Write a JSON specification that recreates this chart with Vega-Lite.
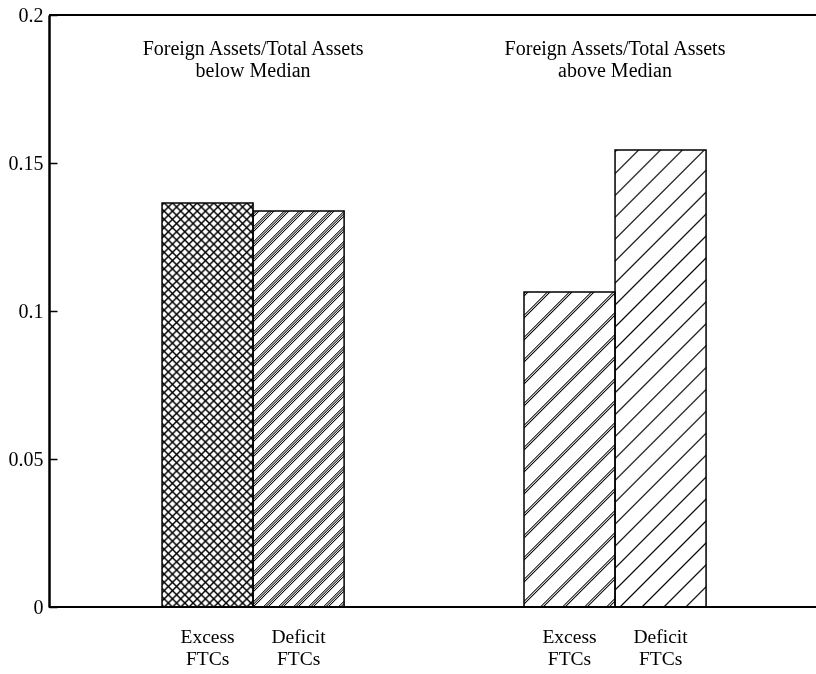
{
"$schema": "https://vega.github.io/schema/vega-lite/v6.json",
"width": 767, "height": 592,
"autosize": {"type": "none"},
"padding": {"left": 49, "top": 15, "right": 0, "bottom": 67},
"background": "white",
"config": {"view": {"stroke": null}, "font": "Liberation Serif"},
"data": {"values": [
{"group": "below", "type": "Excess", "value": 0.1365, "label": "Excess\nFTCs", "grouptitle": "Foreign Assets/Total Assets\nbelow Median"},
{"group": "below", "type": "Deficit", "value": 0.1338, "label": "Deficit\nFTCs", "grouptitle": "Foreign Assets/Total Assets\nbelow Median"},
{"group": "above", "type": "Excess", "value": 0.1064, "label": "Excess\nFTCs", "grouptitle": "Foreign Assets/Total Assets\nabove Median"},
{"group": "above", "type": "Deficit", "value": 0.1544, "label": "Deficit\nFTCs", "grouptitle": "Foreign Assets/Total Assets\nabove Median"}
]},
"encoding": {
"y": {"field": "value", "type": "quantitative", "scale": {"domain": [0, 0.2], "nice": false, "zero": true},
"axis": {"title": null, "values": [0, 0.05, 0.1, 0.15, 0.2], "format": "~g", "grid": false, "domainColor": "#000", "domainWidth": 2.5, "tickColor": "#000", "tickWidth": 1.5, "tickSize": -8, "labelPadding": 14, "labelFont": "Liberation Serif", "labelFontSize": 20, "labelColor": "#000", "labelOverlap": false}}
},
"layer": [
{"transform": [{"filter": "datum.group==='below' && datum.type==='Excess'"}],
"mark": {"type": "bar", "fill": {"gradient": "linear", "x1": 0, "y1": 0, "x2": 0.27354, "y2": 1.21451, "stops": [
{"offset":0,"color":"#fff"},{"offset":0.004,"color":"#000"},{"offset":0.008,"color":"#fff"},
{"offset":0.016,"color":"#fff"},{"offset":0.02,"color":"#000"},{"offset":0.024,"color":"#fff"},
{"offset":0.032,"color":"#fff"},{"offset":0.036,"color":"#000"},{"offset":0.04,"color":"#fff"},
{"offset":0.048,"color":"#fff"},{"offset":0.052,"color":"#000"},{"offset":0.056,"color":"#fff"},
{"offset":0.064,"color":"#fff"},{"offset":0.068,"color":"#000"},{"offset":0.072,"color":"#fff"},
{"offset":0.08,"color":"#fff"},{"offset":0.084,"color":"#000"},{"offset":0.088,"color":"#fff"},
{"offset":0.096,"color":"#fff"},{"offset":0.1,"color":"#000"},{"offset":0.104,"color":"#fff"},
{"offset":0.112,"color":"#fff"},{"offset":0.116,"color":"#000"},{"offset":0.12,"color":"#fff"},
{"offset":0.128,"color":"#fff"},{"offset":0.132,"color":"#000"},{"offset":0.136,"color":"#fff"},
{"offset":0.144,"color":"#fff"},{"offset":0.148,"color":"#000"},{"offset":0.152,"color":"#fff"},
{"offset":0.16,"color":"#fff"},{"offset":0.164,"color":"#000"},{"offset":0.168,"color":"#fff"},
{"offset":0.176,"color":"#fff"},{"offset":0.18,"color":"#000"},{"offset":0.184,"color":"#fff"},
{"offset":0.192,"color":"#fff"},{"offset":0.196,"color":"#000"},{"offset":0.2,"color":"#fff"},
{"offset":0.208,"color":"#fff"},{"offset":0.212,"color":"#000"},{"offset":0.216,"color":"#fff"},
{"offset":0.224,"color":"#fff"},{"offset":0.228,"color":"#000"},{"offset":0.232,"color":"#fff"},
{"offset":0.24,"color":"#fff"},{"offset":0.244,"color":"#000"},{"offset":0.248,"color":"#fff"},
{"offset":0.256,"color":"#fff"},{"offset":0.26,"color":"#000"},{"offset":0.264,"color":"#fff"},
{"offset":0.272,"color":"#fff"},{"offset":0.276,"color":"#000"},{"offset":0.28,"color":"#fff"},
{"offset":0.288,"color":"#fff"},{"offset":0.292,"color":"#000"},{"offset":0.296,"color":"#fff"},
{"offset":0.304,"color":"#fff"},{"offset":0.308,"color":"#000"},{"offset":0.312,"color":"#fff"},
{"offset":0.32,"color":"#fff"},{"offset":0.324,"color":"#000"},{"offset":0.328,"color":"#fff"},
{"offset":0.336,"color":"#fff"},{"offset":0.34,"color":"#000"},{"offset":0.344,"color":"#fff"},
{"offset":0.352,"color":"#fff"},{"offset":0.356,"color":"#000"},{"offset":0.36,"color":"#fff"},
{"offset":0.368,"color":"#fff"},{"offset":0.372,"color":"#000"},{"offset":0.376,"color":"#fff"},
{"offset":0.384,"color":"#fff"},{"offset":0.388,"color":"#000"},{"offset":0.392,"color":"#fff"},
{"offset":0.4,"color":"#fff"},{"offset":0.404,"color":"#000"},{"offset":0.408,"color":"#fff"},
{"offset":0.416,"color":"#fff"},{"offset":0.42,"color":"#000"},{"offset":0.424,"color":"#fff"},
{"offset":0.432,"color":"#fff"},{"offset":0.436,"color":"#000"},{"offset":0.44,"color":"#fff"},
{"offset":0.448,"color":"#fff"},{"offset":0.452,"color":"#000"},{"offset":0.456,"color":"#fff"},
{"offset":0.464,"color":"#fff"},{"offset":0.468,"color":"#000"},{"offset":0.472,"color":"#fff"},
{"offset":0.48,"color":"#fff"},{"offset":0.484,"color":"#000"},{"offset":0.488,"color":"#fff"},
{"offset":0.496,"color":"#fff"},{"offset":0.5,"color":"#000"},{"offset":0.504,"color":"#fff"},
{"offset":0.512,"color":"#fff"},{"offset":0.516,"color":"#000"},{"offset":0.52,"color":"#fff"},
{"offset":0.528,"color":"#fff"},{"offset":0.532,"color":"#000"},{"offset":0.536,"color":"#fff"},
{"offset":0.544,"color":"#fff"},{"offset":0.548,"color":"#000"},{"offset":0.552,"color":"#fff"},
{"offset":0.56,"color":"#fff"},{"offset":0.564,"color":"#000"},{"offset":0.568,"color":"#fff"},
{"offset":0.576,"color":"#fff"},{"offset":0.58,"color":"#000"},{"offset":0.584,"color":"#fff"},
{"offset":0.592,"color":"#fff"},{"offset":0.596,"color":"#000"},{"offset":0.6,"color":"#fff"},
{"offset":0.608,"color":"#fff"},{"offset":0.612,"color":"#000"},{"offset":0.616,"color":"#fff"},
{"offset":0.624,"color":"#fff"},{"offset":0.628,"color":"#000"},{"offset":0.632,"color":"#fff"},
{"offset":0.64,"color":"#fff"},{"offset":0.644,"color":"#000"},{"offset":0.648,"color":"#fff"},
{"offset":0.656,"color":"#fff"},{"offset":0.66,"color":"#000"},{"offset":0.664,"color":"#fff"},
{"offset":0.672,"color":"#fff"},{"offset":0.676,"color":"#000"},{"offset":0.68,"color":"#fff"},
{"offset":0.688,"color":"#fff"},{"offset":0.692,"color":"#000"},{"offset":0.696,"color":"#fff"},
{"offset":0.704,"color":"#fff"},{"offset":0.708,"color":"#000"},{"offset":0.712,"color":"#fff"},
{"offset":0.72,"color":"#fff"},{"offset":0.724,"color":"#000"},{"offset":0.728,"color":"#fff"},
{"offset":0.736,"color":"#fff"},{"offset":0.74,"color":"#000"},{"offset":0.744,"color":"#fff"},
{"offset":0.752,"color":"#fff"},{"offset":0.756,"color":"#000"},{"offset":0.76,"color":"#fff"},
{"offset":0.768,"color":"#fff"},{"offset":0.772,"color":"#000"},{"offset":0.776,"color":"#fff"},
{"offset":0.784,"color":"#fff"},{"offset":0.788,"color":"#000"},{"offset":0.792,"color":"#fff"},
{"offset":0.8,"color":"#fff"},{"offset":0.804,"color":"#000"},{"offset":0.808,"color":"#fff"},
{"offset":0.816,"color":"#fff"},{"offset":0.82,"color":"#000"},{"offset":0.824,"color":"#fff"},
{"offset":0.832,"color":"#fff"},{"offset":0.836,"color":"#000"},{"offset":0.84,"color":"#fff"},
{"offset":0.848,"color":"#fff"},{"offset":0.852,"color":"#000"},{"offset":0.856,"color":"#fff"},
{"offset":0.864,"color":"#fff"},{"offset":0.868,"color":"#000"},{"offset":0.872,"color":"#fff"},
{"offset":0.88,"color":"#fff"},{"offset":0.884,"color":"#000"},{"offset":0.888,"color":"#fff"},
{"offset":0.896,"color":"#fff"},{"offset":0.9,"color":"#000"},{"offset":0.904,"color":"#fff"},
{"offset":0.912,"color":"#fff"},{"offset":0.916,"color":"#000"},{"offset":0.92,"color":"#fff"},
{"offset":0.928,"color":"#fff"},{"offset":0.932,"color":"#000"},{"offset":0.936,"color":"#fff"},
{"offset":0.944,"color":"#fff"},{"offset":0.948,"color":"#000"},{"offset":0.952,"color":"#fff"},
{"offset":0.96,"color":"#fff"},{"offset":0.964,"color":"#000"},{"offset":0.968,"color":"#fff"}
]}},
"encoding": {"x": {"field": "group", "type": "nominal", "scale": {"domain": ["below", "above"], "paddingInner": 0.497, "paddingOuter": 0.308, "align": 0.507}, "axis": null},
"xOffset": {"field": "type", "type": "nominal", "scale": {"domain": ["Excess", "Deficit"], "paddingInner": 0, "paddingOuter": 0}}}},
{"transform": [{"filter": "datum.group==='below' && datum.type==='Excess'"}],
"mark": {"type": "bar", "blend": "multiply", "fill": {"gradient": "linear", "x1": 0, "y1": 1, "x2": 0.27354, "y2": -0.21451, "stops": [
{"offset":0,"color":"#fff"},{"offset":0.004,"color":"#000"},{"offset":0.008,"color":"#fff"},
{"offset":0.016,"color":"#fff"},{"offset":0.02,"color":"#000"},{"offset":0.024,"color":"#fff"},
{"offset":0.032,"color":"#fff"},{"offset":0.036,"color":"#000"},{"offset":0.04,"color":"#fff"},
{"offset":0.048,"color":"#fff"},{"offset":0.052,"color":"#000"},{"offset":0.056,"color":"#fff"},
{"offset":0.064,"color":"#fff"},{"offset":0.068,"color":"#000"},{"offset":0.072,"color":"#fff"},
{"offset":0.08,"color":"#fff"},{"offset":0.084,"color":"#000"},{"offset":0.088,"color":"#fff"},
{"offset":0.096,"color":"#fff"},{"offset":0.1,"color":"#000"},{"offset":0.104,"color":"#fff"},
{"offset":0.112,"color":"#fff"},{"offset":0.116,"color":"#000"},{"offset":0.12,"color":"#fff"},
{"offset":0.128,"color":"#fff"},{"offset":0.132,"color":"#000"},{"offset":0.136,"color":"#fff"},
{"offset":0.144,"color":"#fff"},{"offset":0.148,"color":"#000"},{"offset":0.152,"color":"#fff"},
{"offset":0.16,"color":"#fff"},{"offset":0.164,"color":"#000"},{"offset":0.168,"color":"#fff"},
{"offset":0.176,"color":"#fff"},{"offset":0.18,"color":"#000"},{"offset":0.184,"color":"#fff"},
{"offset":0.192,"color":"#fff"},{"offset":0.196,"color":"#000"},{"offset":0.2,"color":"#fff"},
{"offset":0.208,"color":"#fff"},{"offset":0.212,"color":"#000"},{"offset":0.216,"color":"#fff"},
{"offset":0.224,"color":"#fff"},{"offset":0.228,"color":"#000"},{"offset":0.232,"color":"#fff"},
{"offset":0.24,"color":"#fff"},{"offset":0.244,"color":"#000"},{"offset":0.248,"color":"#fff"},
{"offset":0.256,"color":"#fff"},{"offset":0.26,"color":"#000"},{"offset":0.264,"color":"#fff"},
{"offset":0.272,"color":"#fff"},{"offset":0.276,"color":"#000"},{"offset":0.28,"color":"#fff"},
{"offset":0.288,"color":"#fff"},{"offset":0.292,"color":"#000"},{"offset":0.296,"color":"#fff"},
{"offset":0.304,"color":"#fff"},{"offset":0.308,"color":"#000"},{"offset":0.312,"color":"#fff"},
{"offset":0.32,"color":"#fff"},{"offset":0.324,"color":"#000"},{"offset":0.328,"color":"#fff"},
{"offset":0.336,"color":"#fff"},{"offset":0.34,"color":"#000"},{"offset":0.344,"color":"#fff"},
{"offset":0.352,"color":"#fff"},{"offset":0.356,"color":"#000"},{"offset":0.36,"color":"#fff"},
{"offset":0.368,"color":"#fff"},{"offset":0.372,"color":"#000"},{"offset":0.376,"color":"#fff"},
{"offset":0.384,"color":"#fff"},{"offset":0.388,"color":"#000"},{"offset":0.392,"color":"#fff"},
{"offset":0.4,"color":"#fff"},{"offset":0.404,"color":"#000"},{"offset":0.408,"color":"#fff"},
{"offset":0.416,"color":"#fff"},{"offset":0.42,"color":"#000"},{"offset":0.424,"color":"#fff"},
{"offset":0.432,"color":"#fff"},{"offset":0.436,"color":"#000"},{"offset":0.44,"color":"#fff"},
{"offset":0.448,"color":"#fff"},{"offset":0.452,"color":"#000"},{"offset":0.456,"color":"#fff"},
{"offset":0.464,"color":"#fff"},{"offset":0.468,"color":"#000"},{"offset":0.472,"color":"#fff"},
{"offset":0.48,"color":"#fff"},{"offset":0.484,"color":"#000"},{"offset":0.488,"color":"#fff"},
{"offset":0.496,"color":"#fff"},{"offset":0.5,"color":"#000"},{"offset":0.504,"color":"#fff"},
{"offset":0.512,"color":"#fff"},{"offset":0.516,"color":"#000"},{"offset":0.52,"color":"#fff"},
{"offset":0.528,"color":"#fff"},{"offset":0.532,"color":"#000"},{"offset":0.536,"color":"#fff"},
{"offset":0.544,"color":"#fff"},{"offset":0.548,"color":"#000"},{"offset":0.552,"color":"#fff"},
{"offset":0.56,"color":"#fff"},{"offset":0.564,"color":"#000"},{"offset":0.568,"color":"#fff"},
{"offset":0.576,"color":"#fff"},{"offset":0.58,"color":"#000"},{"offset":0.584,"color":"#fff"},
{"offset":0.592,"color":"#fff"},{"offset":0.596,"color":"#000"},{"offset":0.6,"color":"#fff"},
{"offset":0.608,"color":"#fff"},{"offset":0.612,"color":"#000"},{"offset":0.616,"color":"#fff"},
{"offset":0.624,"color":"#fff"},{"offset":0.628,"color":"#000"},{"offset":0.632,"color":"#fff"},
{"offset":0.64,"color":"#fff"},{"offset":0.644,"color":"#000"},{"offset":0.648,"color":"#fff"},
{"offset":0.656,"color":"#fff"},{"offset":0.66,"color":"#000"},{"offset":0.664,"color":"#fff"},
{"offset":0.672,"color":"#fff"},{"offset":0.676,"color":"#000"},{"offset":0.68,"color":"#fff"},
{"offset":0.688,"color":"#fff"},{"offset":0.692,"color":"#000"},{"offset":0.696,"color":"#fff"},
{"offset":0.704,"color":"#fff"},{"offset":0.708,"color":"#000"},{"offset":0.712,"color":"#fff"},
{"offset":0.72,"color":"#fff"},{"offset":0.724,"color":"#000"},{"offset":0.728,"color":"#fff"},
{"offset":0.736,"color":"#fff"},{"offset":0.74,"color":"#000"},{"offset":0.744,"color":"#fff"},
{"offset":0.752,"color":"#fff"},{"offset":0.756,"color":"#000"},{"offset":0.76,"color":"#fff"},
{"offset":0.768,"color":"#fff"},{"offset":0.772,"color":"#000"},{"offset":0.776,"color":"#fff"},
{"offset":0.784,"color":"#fff"},{"offset":0.788,"color":"#000"},{"offset":0.792,"color":"#fff"},
{"offset":0.8,"color":"#fff"},{"offset":0.804,"color":"#000"},{"offset":0.808,"color":"#fff"},
{"offset":0.816,"color":"#fff"},{"offset":0.82,"color":"#000"},{"offset":0.824,"color":"#fff"},
{"offset":0.832,"color":"#fff"},{"offset":0.836,"color":"#000"},{"offset":0.84,"color":"#fff"},
{"offset":0.848,"color":"#fff"},{"offset":0.852,"color":"#000"},{"offset":0.856,"color":"#fff"},
{"offset":0.864,"color":"#fff"},{"offset":0.868,"color":"#000"},{"offset":0.872,"color":"#fff"},
{"offset":0.88,"color":"#fff"},{"offset":0.884,"color":"#000"},{"offset":0.888,"color":"#fff"},
{"offset":0.896,"color":"#fff"},{"offset":0.9,"color":"#000"},{"offset":0.904,"color":"#fff"},
{"offset":0.912,"color":"#fff"},{"offset":0.916,"color":"#000"},{"offset":0.92,"color":"#fff"},
{"offset":0.928,"color":"#fff"},{"offset":0.932,"color":"#000"},{"offset":0.936,"color":"#fff"},
{"offset":0.944,"color":"#fff"},{"offset":0.948,"color":"#000"},{"offset":0.952,"color":"#fff"},
{"offset":0.96,"color":"#fff"},{"offset":0.964,"color":"#000"},{"offset":0.968,"color":"#fff"}
]}},
"encoding": {"x": {"field": "group", "type": "nominal"}, "xOffset": {"field": "type", "type": "nominal"}}},
{"transform": [{"filter": "datum.group==='below' && datum.type==='Deficit'"}],
"mark": {"type": "bar", "fill": {"gradient": "linear", "x1": 0, "y1": 0, "x2": 0.33063, "y2": 1.43898, "stops": [
{"offset":0,"color":"#fff"},{"offset":0.002,"color":"#000"},{"offset":0.004,"color":"#fff"},{"offset":0.006,"color":"#000"},{"offset":0.008,"color":"#fff"},{"offset":0.01,"color":"#000"},{"offset":0.012,"color":"#fff"},
{"offset":0.025,"color":"#fff"},{"offset":0.027,"color":"#000"},{"offset":0.029,"color":"#fff"},{"offset":0.031,"color":"#000"},{"offset":0.033,"color":"#fff"},{"offset":0.035,"color":"#000"},{"offset":0.037,"color":"#fff"},
{"offset":0.05,"color":"#fff"},{"offset":0.052,"color":"#000"},{"offset":0.054,"color":"#fff"},{"offset":0.056,"color":"#000"},{"offset":0.058,"color":"#fff"},{"offset":0.06,"color":"#000"},{"offset":0.062,"color":"#fff"},
{"offset":0.075,"color":"#fff"},{"offset":0.077,"color":"#000"},{"offset":0.079,"color":"#fff"},{"offset":0.081,"color":"#000"},{"offset":0.083,"color":"#fff"},{"offset":0.085,"color":"#000"},{"offset":0.087,"color":"#fff"},
{"offset":0.1,"color":"#fff"},{"offset":0.102,"color":"#000"},{"offset":0.104,"color":"#fff"},{"offset":0.106,"color":"#000"},{"offset":0.108,"color":"#fff"},{"offset":0.11,"color":"#000"},{"offset":0.112,"color":"#fff"},
{"offset":0.125,"color":"#fff"},{"offset":0.127,"color":"#000"},{"offset":0.129,"color":"#fff"},{"offset":0.131,"color":"#000"},{"offset":0.133,"color":"#fff"},{"offset":0.135,"color":"#000"},{"offset":0.137,"color":"#fff"},
{"offset":0.15,"color":"#fff"},{"offset":0.152,"color":"#000"},{"offset":0.154,"color":"#fff"},{"offset":0.156,"color":"#000"},{"offset":0.158,"color":"#fff"},{"offset":0.16,"color":"#000"},{"offset":0.162,"color":"#fff"},
{"offset":0.175,"color":"#fff"},{"offset":0.177,"color":"#000"},{"offset":0.179,"color":"#fff"},{"offset":0.181,"color":"#000"},{"offset":0.183,"color":"#fff"},{"offset":0.185,"color":"#000"},{"offset":0.187,"color":"#fff"},
{"offset":0.2,"color":"#fff"},{"offset":0.202,"color":"#000"},{"offset":0.204,"color":"#fff"},{"offset":0.206,"color":"#000"},{"offset":0.208,"color":"#fff"},{"offset":0.21,"color":"#000"},{"offset":0.212,"color":"#fff"},
{"offset":0.225,"color":"#fff"},{"offset":0.227,"color":"#000"},{"offset":0.229,"color":"#fff"},{"offset":0.231,"color":"#000"},{"offset":0.233,"color":"#fff"},{"offset":0.235,"color":"#000"},{"offset":0.237,"color":"#fff"},
{"offset":0.25,"color":"#fff"},{"offset":0.252,"color":"#000"},{"offset":0.254,"color":"#fff"},{"offset":0.256,"color":"#000"},{"offset":0.258,"color":"#fff"},{"offset":0.26,"color":"#000"},{"offset":0.262,"color":"#fff"},
{"offset":0.275,"color":"#fff"},{"offset":0.277,"color":"#000"},{"offset":0.279,"color":"#fff"},{"offset":0.281,"color":"#000"},{"offset":0.283,"color":"#fff"},{"offset":0.285,"color":"#000"},{"offset":0.287,"color":"#fff"},
{"offset":0.3,"color":"#fff"},{"offset":0.302,"color":"#000"},{"offset":0.304,"color":"#fff"},{"offset":0.306,"color":"#000"},{"offset":0.308,"color":"#fff"},{"offset":0.31,"color":"#000"},{"offset":0.312,"color":"#fff"},
{"offset":0.325,"color":"#fff"},{"offset":0.327,"color":"#000"},{"offset":0.329,"color":"#fff"},{"offset":0.331,"color":"#000"},{"offset":0.333,"color":"#fff"},{"offset":0.335,"color":"#000"},{"offset":0.337,"color":"#fff"},
{"offset":0.35,"color":"#fff"},{"offset":0.352,"color":"#000"},{"offset":0.354,"color":"#fff"},{"offset":0.356,"color":"#000"},{"offset":0.358,"color":"#fff"},{"offset":0.36,"color":"#000"},{"offset":0.362,"color":"#fff"},
{"offset":0.375,"color":"#fff"},{"offset":0.377,"color":"#000"},{"offset":0.379,"color":"#fff"},{"offset":0.381,"color":"#000"},{"offset":0.383,"color":"#fff"},{"offset":0.385,"color":"#000"},{"offset":0.387,"color":"#fff"},
{"offset":0.4,"color":"#fff"},{"offset":0.402,"color":"#000"},{"offset":0.404,"color":"#fff"},{"offset":0.406,"color":"#000"},{"offset":0.408,"color":"#fff"},{"offset":0.41,"color":"#000"},{"offset":0.412,"color":"#fff"},
{"offset":0.425,"color":"#fff"},{"offset":0.427,"color":"#000"},{"offset":0.429,"color":"#fff"},{"offset":0.431,"color":"#000"},{"offset":0.433,"color":"#fff"},{"offset":0.435,"color":"#000"},{"offset":0.437,"color":"#fff"},
{"offset":0.45,"color":"#fff"},{"offset":0.452,"color":"#000"},{"offset":0.454,"color":"#fff"},{"offset":0.456,"color":"#000"},{"offset":0.458,"color":"#fff"},{"offset":0.46,"color":"#000"},{"offset":0.462,"color":"#fff"},
{"offset":0.475,"color":"#fff"},{"offset":0.477,"color":"#000"},{"offset":0.479,"color":"#fff"},{"offset":0.481,"color":"#000"},{"offset":0.483,"color":"#fff"},{"offset":0.485,"color":"#000"},{"offset":0.487,"color":"#fff"},
{"offset":0.5,"color":"#fff"},{"offset":0.502,"color":"#000"},{"offset":0.504,"color":"#fff"},{"offset":0.506,"color":"#000"},{"offset":0.508,"color":"#fff"},{"offset":0.51,"color":"#000"},{"offset":0.512,"color":"#fff"},
{"offset":0.525,"color":"#fff"},{"offset":0.527,"color":"#000"},{"offset":0.529,"color":"#fff"},{"offset":0.531,"color":"#000"},{"offset":0.533,"color":"#fff"},{"offset":0.535,"color":"#000"},{"offset":0.537,"color":"#fff"},
{"offset":0.55,"color":"#fff"},{"offset":0.552,"color":"#000"},{"offset":0.554,"color":"#fff"},{"offset":0.556,"color":"#000"},{"offset":0.558,"color":"#fff"},{"offset":0.56,"color":"#000"},{"offset":0.562,"color":"#fff"},
{"offset":0.575,"color":"#fff"},{"offset":0.577,"color":"#000"},{"offset":0.579,"color":"#fff"},{"offset":0.581,"color":"#000"},{"offset":0.583,"color":"#fff"},{"offset":0.585,"color":"#000"},{"offset":0.587,"color":"#fff"},
{"offset":0.6,"color":"#fff"},{"offset":0.602,"color":"#000"},{"offset":0.604,"color":"#fff"},{"offset":0.606,"color":"#000"},{"offset":0.608,"color":"#fff"},{"offset":0.61,"color":"#000"},{"offset":0.612,"color":"#fff"},
{"offset":0.625,"color":"#fff"},{"offset":0.627,"color":"#000"},{"offset":0.629,"color":"#fff"},{"offset":0.631,"color":"#000"},{"offset":0.633,"color":"#fff"},{"offset":0.635,"color":"#000"},{"offset":0.637,"color":"#fff"},
{"offset":0.65,"color":"#fff"},{"offset":0.652,"color":"#000"},{"offset":0.654,"color":"#fff"},{"offset":0.656,"color":"#000"},{"offset":0.658,"color":"#fff"},{"offset":0.66,"color":"#000"},{"offset":0.662,"color":"#fff"},
{"offset":0.675,"color":"#fff"},{"offset":0.677,"color":"#000"},{"offset":0.679,"color":"#fff"},{"offset":0.681,"color":"#000"},{"offset":0.683,"color":"#fff"},{"offset":0.685,"color":"#000"},{"offset":0.687,"color":"#fff"},
{"offset":0.7,"color":"#fff"},{"offset":0.702,"color":"#000"},{"offset":0.704,"color":"#fff"},{"offset":0.706,"color":"#000"},{"offset":0.708,"color":"#fff"},{"offset":0.71,"color":"#000"},{"offset":0.712,"color":"#fff"},
{"offset":0.725,"color":"#fff"},{"offset":0.727,"color":"#000"},{"offset":0.729,"color":"#fff"},{"offset":0.731,"color":"#000"},{"offset":0.733,"color":"#fff"},{"offset":0.735,"color":"#000"},{"offset":0.737,"color":"#fff"},
{"offset":0.75,"color":"#fff"},{"offset":0.752,"color":"#000"},{"offset":0.754,"color":"#fff"},{"offset":0.756,"color":"#000"},{"offset":0.758,"color":"#fff"},{"offset":0.76,"color":"#000"},{"offset":0.762,"color":"#fff"},
{"offset":0.775,"color":"#fff"},{"offset":0.777,"color":"#000"},{"offset":0.779,"color":"#fff"},{"offset":0.781,"color":"#000"},{"offset":0.783,"color":"#fff"},{"offset":0.785,"color":"#000"},{"offset":0.787,"color":"#fff"},
{"offset":0.8,"color":"#fff"},{"offset":0.802,"color":"#000"},{"offset":0.804,"color":"#fff"},{"offset":0.806,"color":"#000"},{"offset":0.808,"color":"#fff"},{"offset":0.81,"color":"#000"},{"offset":0.812,"color":"#fff"}
]}},
"encoding": {"x": {"field": "group", "type": "nominal"}, "xOffset": {"field": "type", "type": "nominal"}}},
{"transform": [{"filter": "datum.group==='above' && datum.type==='Excess'"}],
"mark": {"type": "bar", "fill": {"gradient": "linear", "x1": 0, "y1": 0, "x2": 0.37266, "y2": 1.28958, "stops": [
{"offset":0,"color":"#fff"},{"offset":0.003,"color":"#000"},{"offset":0.006,"color":"#fff"},{"offset":0.009,"color":"#000"},{"offset":0.012,"color":"#fff"},
{"offset":0.05,"color":"#fff"},{"offset":0.053,"color":"#000"},{"offset":0.056,"color":"#fff"},{"offset":0.059,"color":"#000"},{"offset":0.062,"color":"#fff"},
{"offset":0.1,"color":"#fff"},{"offset":0.103,"color":"#000"},{"offset":0.106,"color":"#fff"},{"offset":0.109,"color":"#000"},{"offset":0.112,"color":"#fff"},
{"offset":0.15,"color":"#fff"},{"offset":0.153,"color":"#000"},{"offset":0.156,"color":"#fff"},{"offset":0.159,"color":"#000"},{"offset":0.162,"color":"#fff"},
{"offset":0.2,"color":"#fff"},{"offset":0.203,"color":"#000"},{"offset":0.206,"color":"#fff"},{"offset":0.209,"color":"#000"},{"offset":0.212,"color":"#fff"},
{"offset":0.25,"color":"#fff"},{"offset":0.253,"color":"#000"},{"offset":0.256,"color":"#fff"},{"offset":0.259,"color":"#000"},{"offset":0.262,"color":"#fff"},
{"offset":0.3,"color":"#fff"},{"offset":0.303,"color":"#000"},{"offset":0.306,"color":"#fff"},{"offset":0.309,"color":"#000"},{"offset":0.312,"color":"#fff"},
{"offset":0.35,"color":"#fff"},{"offset":0.353,"color":"#000"},{"offset":0.356,"color":"#fff"},{"offset":0.359,"color":"#000"},{"offset":0.362,"color":"#fff"},
{"offset":0.4,"color":"#fff"},{"offset":0.403,"color":"#000"},{"offset":0.406,"color":"#fff"},{"offset":0.409,"color":"#000"},{"offset":0.412,"color":"#fff"},
{"offset":0.45,"color":"#fff"},{"offset":0.453,"color":"#000"},{"offset":0.456,"color":"#fff"},{"offset":0.459,"color":"#000"},{"offset":0.462,"color":"#fff"},
{"offset":0.5,"color":"#fff"},{"offset":0.503,"color":"#000"},{"offset":0.506,"color":"#fff"},{"offset":0.509,"color":"#000"},{"offset":0.512,"color":"#fff"},
{"offset":0.55,"color":"#fff"},{"offset":0.553,"color":"#000"},{"offset":0.556,"color":"#fff"},{"offset":0.559,"color":"#000"},{"offset":0.562,"color":"#fff"},
{"offset":0.6,"color":"#fff"},{"offset":0.603,"color":"#000"},{"offset":0.606,"color":"#fff"},{"offset":0.609,"color":"#000"},{"offset":0.612,"color":"#fff"},
{"offset":0.65,"color":"#fff"},{"offset":0.653,"color":"#000"},{"offset":0.656,"color":"#fff"},{"offset":0.659,"color":"#000"},{"offset":0.662,"color":"#fff"},
{"offset":0.7,"color":"#fff"},{"offset":0.703,"color":"#000"},{"offset":0.706,"color":"#fff"},{"offset":0.709,"color":"#000"},{"offset":0.712,"color":"#fff"},
{"offset":0.75,"color":"#fff"},{"offset":0.753,"color":"#000"},{"offset":0.756,"color":"#fff"},{"offset":0.759,"color":"#000"},{"offset":0.762,"color":"#fff"},
{"offset":0.8,"color":"#fff"},{"offset":0.803,"color":"#000"},{"offset":0.806,"color":"#fff"},{"offset":0.809,"color":"#000"},{"offset":0.812,"color":"#fff"},
{"offset":0.85,"color":"#fff"},{"offset":0.853,"color":"#000"},{"offset":0.856,"color":"#fff"},{"offset":0.859,"color":"#000"},{"offset":0.862,"color":"#fff"},
{"offset":0.9,"color":"#fff"},{"offset":0.903,"color":"#000"},{"offset":0.906,"color":"#fff"},{"offset":0.909,"color":"#000"},{"offset":0.912,"color":"#fff"}
]}},
"encoding": {"x": {"field": "group", "type": "nominal"}, "xOffset": {"field": "type", "type": "nominal"}}},
{"transform": [{"filter": "datum.group==='above' && datum.type==='Deficit'"}],
"mark": {"type": "bar", "fill": {"gradient": "linear", "x1": 0, "y1": 0, "x2": 0.22967, "y2": 1.15339, "stops": [
{"offset":0,"color":"#fff"},{"offset":0.003,"color":"#000"},{"offset":0.006,"color":"#fff"},
{"offset":0.04,"color":"#fff"},{"offset":0.043,"color":"#000"},{"offset":0.046,"color":"#fff"},
{"offset":0.08,"color":"#fff"},{"offset":0.083,"color":"#000"},{"offset":0.086,"color":"#fff"},
{"offset":0.12,"color":"#fff"},{"offset":0.123,"color":"#000"},{"offset":0.126,"color":"#fff"},
{"offset":0.16,"color":"#fff"},{"offset":0.163,"color":"#000"},{"offset":0.166,"color":"#fff"},
{"offset":0.2,"color":"#fff"},{"offset":0.203,"color":"#000"},{"offset":0.206,"color":"#fff"},
{"offset":0.24,"color":"#fff"},{"offset":0.243,"color":"#000"},{"offset":0.246,"color":"#fff"},
{"offset":0.28,"color":"#fff"},{"offset":0.283,"color":"#000"},{"offset":0.286,"color":"#fff"},
{"offset":0.32,"color":"#fff"},{"offset":0.323,"color":"#000"},{"offset":0.326,"color":"#fff"},
{"offset":0.36,"color":"#fff"},{"offset":0.363,"color":"#000"},{"offset":0.366,"color":"#fff"},
{"offset":0.4,"color":"#fff"},{"offset":0.403,"color":"#000"},{"offset":0.406,"color":"#fff"},
{"offset":0.44,"color":"#fff"},{"offset":0.443,"color":"#000"},{"offset":0.446,"color":"#fff"},
{"offset":0.48,"color":"#fff"},{"offset":0.483,"color":"#000"},{"offset":0.486,"color":"#fff"},
{"offset":0.52,"color":"#fff"},{"offset":0.523,"color":"#000"},{"offset":0.526,"color":"#fff"},
{"offset":0.56,"color":"#fff"},{"offset":0.563,"color":"#000"},{"offset":0.566,"color":"#fff"},
{"offset":0.6,"color":"#fff"},{"offset":0.603,"color":"#000"},{"offset":0.606,"color":"#fff"},
{"offset":0.64,"color":"#fff"},{"offset":0.643,"color":"#000"},{"offset":0.646,"color":"#fff"},
{"offset":0.68,"color":"#fff"},{"offset":0.683,"color":"#000"},{"offset":0.686,"color":"#fff"},
{"offset":0.72,"color":"#fff"},{"offset":0.723,"color":"#000"},{"offset":0.726,"color":"#fff"},
{"offset":0.76,"color":"#fff"},{"offset":0.763,"color":"#000"},{"offset":0.766,"color":"#fff"},
{"offset":0.8,"color":"#fff"},{"offset":0.803,"color":"#000"},{"offset":0.806,"color":"#fff"},
{"offset":0.84,"color":"#fff"},{"offset":0.843,"color":"#000"},{"offset":0.846,"color":"#fff"},
{"offset":0.88,"color":"#fff"},{"offset":0.883,"color":"#000"},{"offset":0.886,"color":"#fff"},
{"offset":0.92,"color":"#fff"},{"offset":0.923,"color":"#000"},{"offset":0.926,"color":"#fff"},
{"offset":0.96,"color":"#fff"},{"offset":0.963,"color":"#000"},{"offset":0.966,"color":"#fff"}
]}},
"encoding": {"x": {"field": "group", "type": "nominal"}, "xOffset": {"field": "type", "type": "nominal"}}},
{"mark": {"type": "bar", "fillOpacity": 0, "stroke": "#000", "strokeWidth": 1.5},
"encoding": {"x": {"field": "group", "type": "nominal"}, "xOffset": {"field": "type", "type": "nominal"}}},
{"transform": [{"filter": "datum.group==='below' && datum.type==='Excess'"}],
"mark": {"type": "rule", "color": "#000", "strokeWidth": 2}, "encoding": {"y": {"datum": 0}}},
{"transform": [{"filter": "datum.group==='below' && datum.type==='Excess'"}],
"mark": {"type": "rule", "color": "#000", "strokeWidth": 2}, "encoding": {"y": {"datum": 0.2}}},
{"transform": [{"filter": "datum.type==='Excess'"}],
"mark": {"type": "text", "font": "Liberation Serif", "fontSize": 20, "lineHeight": 22, "baseline": "top", "align": "center", "dy": 24, "lineBreak": "\n", "color": "#000"},
"encoding": {"x": {"field": "group", "type": "nominal"}, "y": {"datum": 0.2}, "text": {"field": "grouptitle"}}},
{"mark": {"type": "text", "font": "Liberation Serif", "fontSize": 19.5, "lineHeight": 22, "baseline": "top", "align": "center", "dy": 21, "lineBreak": "\n", "color": "#000"},
"encoding": {"x": {"field": "group", "type": "nominal"}, "xOffset": {"field": "type", "type": "nominal"}, "y": {"datum": 0}, "text": {"field": "label"}}}
]
}
